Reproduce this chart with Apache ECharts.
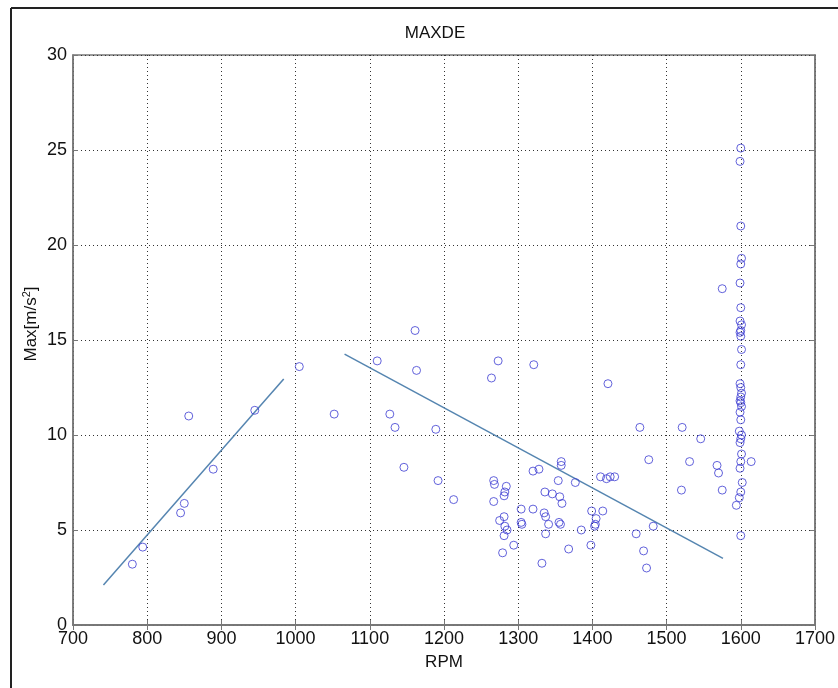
<!DOCTYPE html>
<html>
<head>
<meta charset="utf-8">
<script src="https://cdn.jsdelivr.net/npm/echarts@6/dist/echarts.min.js"></script>
<style>html,body{margin:0;padding:0;background:#fff;}#c{width:838px;height:688px;}</style>
</head>
<body>
<div id="c"></div>
<script>
// ---- data ----
var xTicks = [700, 800, 900, 1000, 1100, 1200, 1300, 1400, 1500, 1600, 1700];
var yTicks = [0, 5, 10, 15, 20, 25, 30];

var rpm = [
  780, 794, 845, 850, 889, 945, 856, 1005, 1052, 1110,
  1161, 1163, 1273, 1321, 1264, 1421, 1127, 1134, 1189, 1146,
  1192, 1213, 1267, 1268, 1267, 1284, 1282, 1281, 1275, 1281,
  1282, 1285, 1281, 1279, 1294, 1304, 1304, 1305, 1320, 1320,
  1328, 1335, 1337, 1341, 1337, 1332, 1336, 1346, 1356, 1359,
  1354, 1358, 1358, 1355, 1357, 1377, 1368, 1385, 1399, 1405,
  1404, 1403, 1398, 1414, 1411, 1419, 1424, 1430, 1464, 1476,
  1459, 1482, 1469, 1473, 1521, 1546, 1531, 1520, 1568, 1570,
  1575, 1614, 1575,
  1600, 1599, 1600, 1601, 1600, 1599, 1600, 1599, 1601, 1600,
  1599, 1600, 1601, 1600, 1599, 1600, 1601, 1600, 1599, 1600,
  1601, 1599, 1600, 1598, 1601, 1600, 1599, 1601, 1600, 1599,
  1602, 1594, 1600, 1600, 1598
];
var maxAcc = [
  3.2, 4.1, 5.9, 6.4, 8.2, 11.3, 11.0, 13.6, 11.1, 13.9,
  15.5, 13.4, 13.9, 13.7, 13.0, 12.7, 11.1, 10.4, 10.3, 8.3,
  7.6, 6.6, 7.6, 7.4, 6.5, 7.3, 7.0, 6.8, 5.5, 5.7,
  5.2, 5.0, 4.7, 3.8, 4.2, 6.1, 5.4, 5.3, 6.1, 8.1,
  8.2, 5.9, 5.7, 5.3, 4.8, 3.25, 7.0, 6.9, 6.75, 6.4,
  7.6, 8.6, 8.4, 5.4, 5.3, 7.5, 4.0, 5.0, 6.0, 5.6,
  5.3, 5.2, 4.2, 6.0, 7.8, 7.7, 7.8, 7.8, 10.4, 8.7,
  4.8, 5.2, 3.9, 3.0, 10.4, 9.8, 8.6, 7.1, 8.4, 8.0,
  7.1, 8.6, 17.7,
  25.1, 24.4, 21.0, 19.3, 19.0, 18.0, 16.7, 16.0, 15.8, 15.5,
  15.4, 15.2, 14.5, 13.7, 12.7, 12.5, 12.2, 12.0, 11.8, 11.7,
  11.5, 11.2, 10.8, 10.2, 10.0, 9.8, 9.6, 9.0, 8.6, 8.25,
  7.5, 6.3, 7.0, 4.7, 6.7
];

var fit1X = [741, 984];
var fit1Y = [2.1, 12.95];
var fit2X = [1066, 1576];
var fit2Y = [14.26, 3.51];

// ---- build ----
var points = rpm.map(function (r, i) { return [r, maxAcc[i]]; });
var line1 = fit1X.map(function (v, i) { return [v, fit1Y[i]]; });
var line2 = fit2X.map(function (v, i) { return [v, fit2Y[i]]; });

var FONT = '"Liberation Sans", Arial, sans-serif';
var gridLine = { show: true, lineStyle: { color: '#333', type: [1, 3], width: 1 } };
var axisLineStyle = { show: true, lineStyle: { color: '#777', width: 1.5 } };
var plain = function (v) { return String(v); };

var chart = echarts.init(document.getElementById('c'), null, { renderer: 'canvas' });
chart.setOption({
  backgroundColor: '#fff',
  animation: false,
  title: {
    text: 'MAXDE', left: 430, top: 20, textAlign: 'center',
    textStyle: { fontFamily: FONT, fontSize: 17, fontWeight: 'normal', color: '#111' }
  },
  grid: { left: 73, right: 21, top: 55, bottom: 63, show: true, borderColor: '#777', borderWidth: 1.5, backgroundColor: '#fff' },
  xAxis: [{
    type: 'value', min: xTicks[0], max: xTicks[xTicks.length - 1], interval: 100,
    name: 'RPM', nameLocation: 'middle', nameGap: 29,
    nameTextStyle: { fontFamily: FONT, fontSize: 17, color: '#111' },
    axisLine: axisLineStyle,
    axisTick: { show: true, inside: true, length: 5, lineStyle: { color: '#777' } },
    axisLabel: { fontFamily: FONT, fontSize: 18, color: '#111', margin: 5, formatter: plain },
    splitLine: gridLine
  }, {
    type: 'value', position: 'top', min: xTicks[0], max: xTicks[xTicks.length - 1], interval: 100,
    axisLine: axisLineStyle,
    axisTick: { show: true, inside: true, length: 5, lineStyle: { color: '#777' } },
    axisLabel: { show: false }, splitLine: { show: false }
  }],
  yAxis: [{
    type: 'value', min: yTicks[0], max: yTicks[yTicks.length - 1], interval: 5,
    axisLine: axisLineStyle,
    axisTick: { show: true, inside: true, length: 5, lineStyle: { color: '#777' } },
    axisLabel: { fontFamily: FONT, fontSize: 18, color: '#111', margin: 6, formatter: plain },
    splitLine: gridLine
  }, {
    type: 'value', position: 'right', min: yTicks[0], max: yTicks[yTicks.length - 1], interval: 5,
    axisLine: axisLineStyle,
    axisTick: { show: true, inside: true, length: 5, lineStyle: { color: '#777' } },
    axisLabel: { show: false }, splitLine: { show: false }
  }],
  graphic: [
    {
      type: 'text', x: 31, y: 324, rotation: Math.PI / 2,
      style: {
        text: 'Max[m/s{sup|2}]', fill: '#111', font: '17px ' + FONT,
        align: 'center', verticalAlign: 'middle',
        rich: { sup: { fontSize: 11, fontFamily: FONT, fill: '#111', verticalAlign: 'top', padding: [0, 0, 8, 0] } }
      }
    },
    { type: 'line', shape: { x1: 11, y1: 8, x2: 11, y2: 688 }, style: { stroke: '#222', lineWidth: 2 } },
    { type: 'line', shape: { x1: 11, y1: 8, x2: 838, y2: 8 }, style: { stroke: '#222', lineWidth: 2 } }
  ],
  series: [
    {
      type: 'scatter', data: points, symbol: 'circle', symbolSize: 8,
      itemStyle: { color: 'rgba(0,0,0,0)', borderColor: '#3c3cd2', borderWidth: 1 },
      z: 3
    },
    {
      type: 'line', data: line1, symbol: 'none',
      lineStyle: { color: '#5585b0', width: 1.5 }, z: 2
    },
    {
      type: 'line', data: line2, symbol: 'none',
      lineStyle: { color: '#5585b0', width: 1.5 }, z: 2
    }
  ]
});
</script>
</body>
</html>
